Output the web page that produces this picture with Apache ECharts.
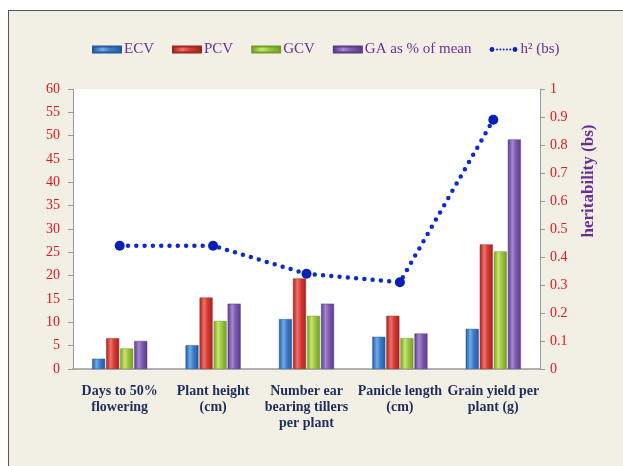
<!DOCTYPE html>
<html>
<head>
<meta charset="utf-8">
<script src="https://cdn.jsdelivr.net/npm/echarts@6/dist/echarts.min.js"></script>
<style>
  html, body { margin: 0; padding: 0; background: #ffffff; }
  #wrap { position: absolute; left: 0; top: 0; width: 623px; height: 466px; overflow: hidden; }
  #frame { position: absolute; left: 8px; top: 10px; width: 700px; height: 520px;
           background: #f2efe5; border: 1px solid #555555; }
  #chart { position: absolute; left: 0; top: 0; width: 623px; height: 466px; }
</style>
</head>
<body>
<div id="wrap">
  <div id="frame"></div>
  <div id="chart"></div>
</div>
<script>
// Trait categories
const categories = [
  'Days to 50%\nflowering',
  'Plant height\n(cm)',
  'Number ear\nbearing tillers\nper plant',
  'Panicle length\n(cm)',
  'Grain yield per\nplant (g)'
];
// Coefficients of variation and genetic advance
const ecv = [2.2, 5.1, 10.7, 6.9, 8.6];
const pcv = [6.6, 15.3, 19.4, 11.4, 26.7];
const gcv = [4.4, 10.3, 11.4, 6.6, 25.2];
const gaMean = [6.0, 14.0, 14.0, 7.6, 49.2];
// Broad-sense heritability
const h2bs = [0.44, 0.44, 0.34, 0.31, 0.89];

const leftTicks = { min: 0, max: 60, interval: 5 };
const rightTicks = { min: 0, max: 1, interval: 0.1 };

function cylinder(dark, light, mid) {
  return new echarts.graphic.LinearGradient(0, 0, 1, 0, [
    { offset: 0, color: dark },
    { offset: 0.35, color: light },
    { offset: 0.6, color: mid },
    { offset: 1, color: dark }
  ]);
}

const serif = '"Liberation Serif", "DejaVu Serif", serif';
const purple = '#6b2f93';

function barSeries(name, data, dark, light, mid) {
  return {
    name: name,
    type: 'bar',
    data: data,
    barWidth: 13,
    barGap: '8%',
    itemStyle: {
      color: cylinder(dark, light, mid),
      borderColor: dark,
      borderWidth: 0.5
    },
    z: 2
  };
}

const lineIcon = 'path://M0,3a3,3 0 1,0 6,0a3,3 0 1,0 -6,0z' +
  'M8,3a1.2,1.2 0 1,0 2.4,0a1.2,1.2 0 1,0 -2.4,0z' +
  'M12,3a1.2,1.2 0 1,0 2.4,0a1.2,1.2 0 1,0 -2.4,0z' +
  'M16,3a1.2,1.2 0 1,0 2.4,0a1.2,1.2 0 1,0 -2.4,0z' +
  'M20,3a1.2,1.2 0 1,0 2.4,0a1.2,1.2 0 1,0 -2.4,0z' +
  'M24,3a1.2,1.2 0 1,0 2.4,0a1.2,1.2 0 1,0 -2.4,0z' +
  'M28,3a3,3 0 1,0 6,0a3,3 0 1,0 -6,0z';

const chart = echarts.init(document.getElementById('chart'), null, { renderer: 'canvas' });
chart.setOption({
  backgroundColor: 'transparent',
  animation: false,
  legend: {
    left: 87,
    top: 37,
    itemWidth: 28,
    itemHeight: 6,
    itemGap: 18,
    textStyle: { fontFamily: serif, fontSize: 15, color: purple, padding: [0, 0, 0, -2] },
    data: [
      { name: 'ECV', icon: 'rect' },
      { name: 'PCV', icon: 'rect' },
      { name: 'GCV', icon: 'rect' },
      { name: 'GA as % of mean', icon: 'rect' },
      { name: 'h² (bs)', icon: lineIcon, itemStyle: { color: '#0b22c4' } }
    ]
  },
  grid: {
    left: 73, right: 83, top: 89, bottom: 97,
    show: true, backgroundColor: '#ffffff', borderWidth: 0
  },
  xAxis: {
    type: 'category',
    data: categories,
    axisLine: { lineStyle: { color: '#999999', width: 1.5 } },
    axisTick: { show: false },
    axisLabel: {
      interval: 0,
      margin: 14,
      fontFamily: serif,
      fontSize: 14,
      fontWeight: 'bold',
      lineHeight: 16,
      color: '#1f2d5c'
    }
  },
  yAxis: [
    {
      type: 'value',
      min: leftTicks.min, max: leftTicks.max, interval: leftTicks.interval,
      splitLine: { show: false },
      axisLine: { show: true, lineStyle: { color: '#999999' } },
      axisTick: { show: true, length: 5, lineStyle: { color: '#999999' } },
      axisLabel: { margin: 13, fontFamily: serif, fontSize: 14, color: '#e3141b' }
    },
    {
      type: 'value',
      position: 'right',
      min: rightTicks.min, max: rightTicks.max, interval: rightTicks.interval,
      splitLine: { show: false },
      axisLine: { show: true, lineStyle: { color: '#999999' } },
      axisTick: { show: true, length: 5, lineStyle: { color: '#999999' } },
      axisLabel: {
        margin: 10, fontFamily: serif, fontSize: 14, color: '#e3141b',
        formatter: v => (Math.round(v * 10) / 10).toString()
      },
      name: 'heritability (bs)',
      nameLocation: 'middle',
      nameRotate: 90,
      nameGap: 40,
      nameTextStyle: {
        fontFamily: serif, fontSize: 17, fontWeight: 'bold', color: purple,
        padding: [0, 0, 0, 96]
      }
    }
  ],
  series: [
    barSeries('ECV', ecv, '#24599c', '#6fabe9', '#3f7cc9'),
    barSeries('PCV', pcv, '#a3221f', '#f0716a', '#d53c36'),
    barSeries('GCV', gcv, '#739c28', '#c9e66e', '#9dc740'),
    barSeries('GA as % of mean', gaMean, '#5a3a88', '#a587d2', '#7e5cb0'),
    {
      name: 'h² (bs)',
      type: 'line',
      yAxisIndex: 1,
      data: h2bs,
      symbol: 'circle',
      symbolSize: 10,
      itemStyle: { color: '#0a1fb8' },
      lineStyle: { color: '#0b2ad0', width: 4.5, type: [0, 8.3], cap: 'round' },
      z: 5
    }
  ]
});
</script>
</body>
</html>
